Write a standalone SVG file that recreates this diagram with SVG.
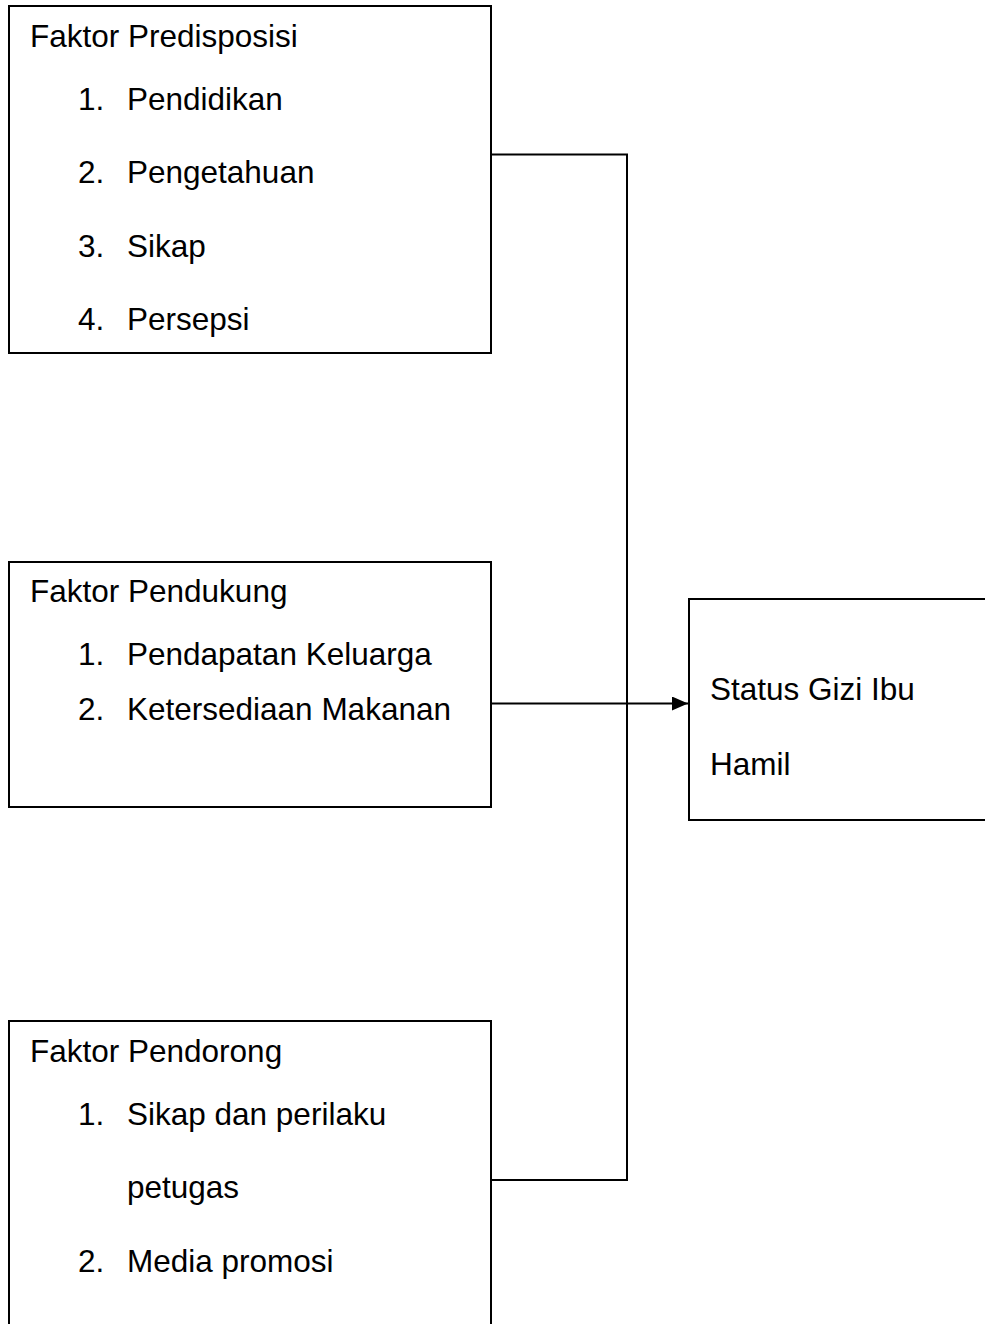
<svg xmlns="http://www.w3.org/2000/svg" width="985" height="1324" viewBox="0 0 985 1324">
<style>
.box{fill:#fff;stroke:#000;stroke-width:2}
.t{font-family:"Liberation Sans",Arial,sans-serif;font-size:31.5px;fill:#000}
.c{fill:none;stroke:#000;stroke-width:2}
</style>
<defs>
<marker id="arr" markerWidth="16" markerHeight="14" refX="16" refY="7" orient="auto" markerUnits="userSpaceOnUse">
<path d="M0,0 L16,7 L0,14 Z" fill="#000"/>
</marker>
</defs>
<rect width="985" height="1324" fill="#fff"/>
<g id="connectors">
<path class="c" d="M491,154.5 H627 V1180 H491"/>
<path class="c" d="M491,703.5 H688" marker-end="url(#arr)"/>
</g>
<g id="predisposisi">
<rect class="box" x="9" y="6" width="482" height="347"/>
<text class="t" x="30" y="47">Faktor Predisposisi</text>
<text class="t" x="78" y="110">1.</text><text class="t" x="127" y="110">Pendidikan</text>
<text class="t" x="78" y="183">2.</text><text class="t" x="127" y="183">Pengetahuan</text>
<text class="t" x="78" y="257">3.</text><text class="t" x="127" y="257">Sikap</text>
<text class="t" x="78" y="330">4.</text><text class="t" x="127" y="330">Persepsi</text>
</g>
<g id="pendukung">
<rect class="box" x="9" y="562" width="482" height="245"/>
<text class="t" x="30" y="602">Faktor Pendukung</text>
<text class="t" x="78" y="665">1.</text><text class="t" x="127" y="665">Pendapatan Keluarga</text>
<text class="t" x="78" y="720">2.</text><text class="t" x="127" y="720">Ketersediaan Makanan</text>
</g>
<g id="pendorong">
<rect class="box" x="9" y="1021" width="482" height="320"/>
<text class="t" x="30" y="1062">Faktor Pendorong</text>
<text class="t" x="78" y="1125">1.</text><text class="t" x="127" y="1125">Sikap dan perilaku</text>
<text class="t" x="127" y="1198">petugas</text>
<text class="t" x="78" y="1272">2.</text><text class="t" x="127" y="1272">Media promosi</text>
</g>
<g id="status">
<rect class="box" x="689" y="599" width="320" height="221"/>
<text class="t" x="710" y="700">Status Gizi Ibu</text>
<text class="t" x="710" y="775">Hamil</text>
</g>
</svg>
